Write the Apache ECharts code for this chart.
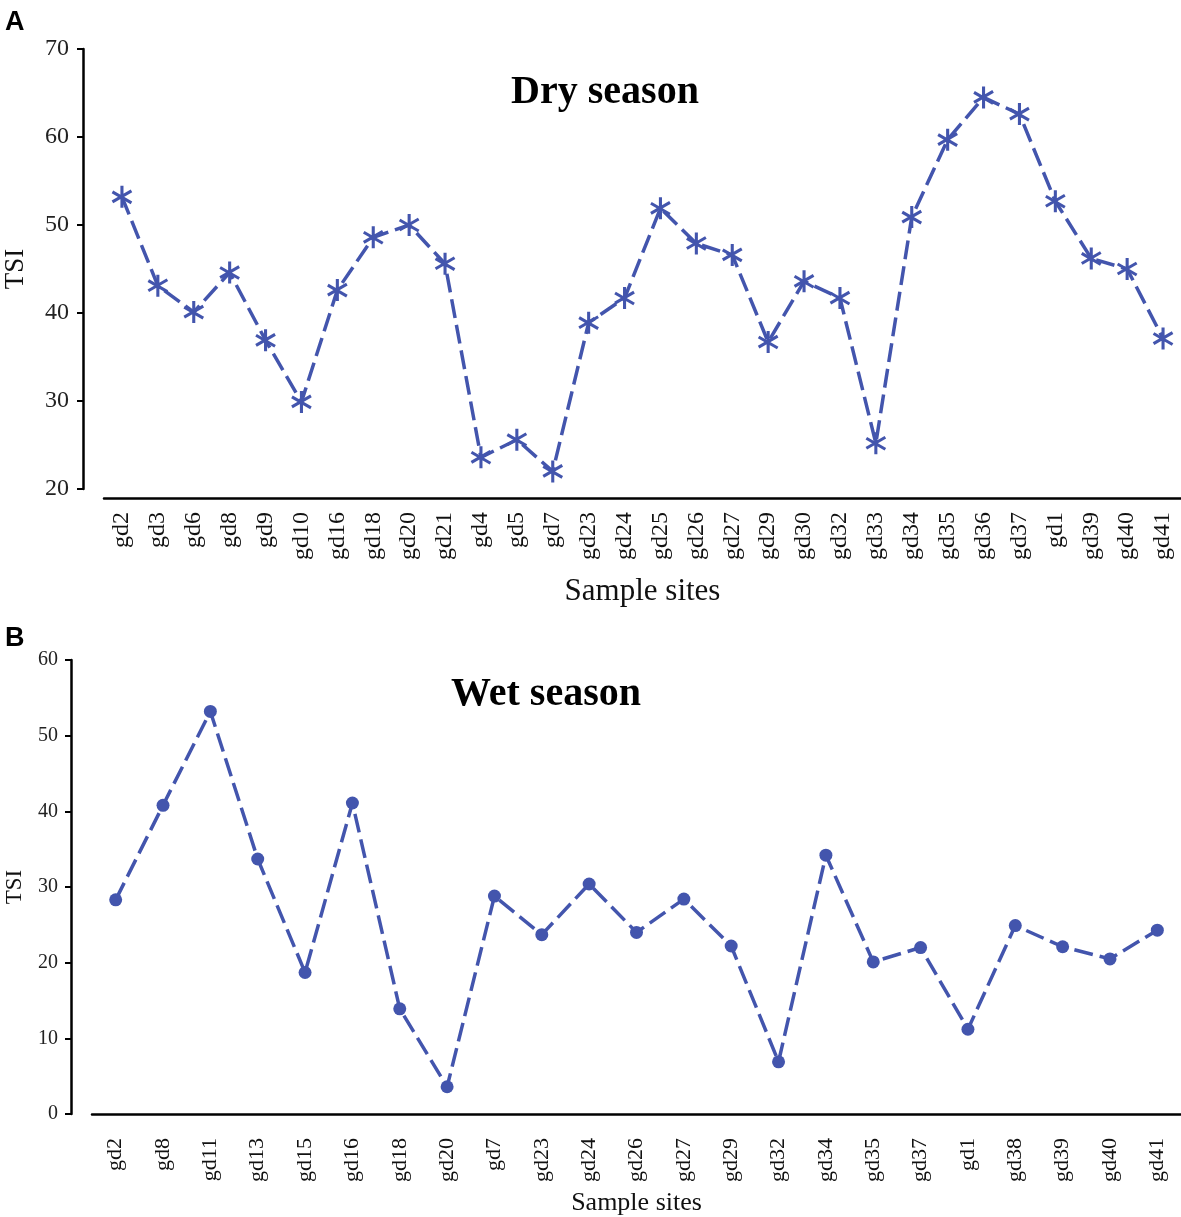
<!DOCTYPE html>
<html>
<head>
<meta charset="utf-8">
<script src="https://cdn.jsdelivr.net/npm/echarts@6/dist/echarts.min.js"></script>
<style>
html,body{margin:0;padding:0;background:#fff;}
#chart{width:1181px;height:1217px;}
</style>
</head>
<body>
<div id="chart"></div>
<script>
const dryCategories = ['gd2','gd3','gd6','gd8','gd9','gd10','gd16','gd18','gd20','gd21','gd4','gd5','gd7','gd23','gd24','gd25','gd26','gd27','gd29','gd30','gd32','gd33','gd34','gd35','gd36','gd37','gd1','gd39','gd40','gd41'];
const dryValues = [53.2,43.1,40.1,44.6,36.9,29.9,42.6,48.6,50.0,45.6,23.6,25.6,22.0,38.9,41.7,51.9,47.9,46.6,36.7,43.6,41.7,25.2,50.9,59.7,64.5,62.6,52.7,46.2,45.0,37.1];
const dryTicks = [20,30,40,50,60,70];

const wetCategories = ['gd2','gd8','gd11','gd13','gd15','gd16','gd18','gd20','gd7','gd23','gd24','gd26','gd27','gd29','gd32','gd34','gd35','gd37','gd1','gd38','gd39','gd40','gd41'];
const wetValues = [28.3,40.8,53.2,33.7,18.7,41.1,13.9,3.6,28.8,23.7,30.4,24.0,28.4,22.2,6.9,34.2,20.1,22.0,11.2,24.9,22.1,20.5,24.3];
const wetTicks = [0,10,20,30,40,50,60];

const COLOR = '#4355ad';
const SERIF = '"Liberation Serif","Times New Roman",serif';
const asterisk = 'path://M43,0L57,0L57,100L43,100Z M96.8,71.1L89.8,83.2L3.2,33.2L10.2,21.1Z M89.8,16.8L96.8,28.9L10.2,78.9L3.2,66.8Z';

const chart = echarts.init(document.getElementById('chart'), null, {renderer:'canvas'});

function xAxisCfg(gridIndex, cats, fontSize, nameSize, nameGap, offset, tickLen){
  return {
    type:'category', gridIndex, data:cats, boundaryGap:true, offset,
    name:'Sample sites', nameLocation:'middle', nameGap,
    nameTextStyle:{fontFamily:SERIF, fontSize:nameSize, color:'#111'},
    axisLine:{lineStyle:{color:'#000', width:2.5}},
    axisTick:{alignWithLabel:true, length:tickLen, lineStyle:{color:'#000', width:2.5}},
    axisLabel:{rotate:90, interval:0, margin:14, fontFamily:SERIF, fontSize, color:'#111'},
    splitLine:{show:false}
  };
}
function yAxisCfg(gridIndex, ticks, fontSize, nameSize, nameGap, margin){
  return {
    type:'value', gridIndex, min:ticks[0], max:ticks[ticks.length-1], interval:ticks[1]-ticks[0],
    offset:21,
    name:'TSI', nameLocation:'middle', nameGap,
    nameTextStyle:{fontFamily:SERIF, fontSize:nameSize, color:'#111'},
    axisLine:{show:true, lineStyle:{color:'#000', width:2.5}},
    axisTick:{show:true, length:6, lineStyle:{color:'#000', width:2}},
    axisLabel:{fontFamily:SERIF, fontSize, color:'#222', margin},
    splitLine:{show:false}
  };
}

chart.setOption({
  animation:false,
  backgroundColor:'#fff',
  title:[
    {text:'A', left:0, top:4, textStyle:{fontFamily:'"Liberation Sans",Arial,sans-serif', fontWeight:'bold', fontSize:27, color:'#000'}},
    {text:'Dry season', left:600, top:68, textAlign:'center', textStyle:{fontFamily:SERIF, fontWeight:'bold', fontSize:40, color:'#000'}},
    {text:'B', left:0, top:620, textStyle:{fontFamily:'"Liberation Sans",Arial,sans-serif', fontWeight:'bold', fontSize:27, color:'#000'}},
    {text:'Wet season', left:541, top:670, textAlign:'center', textStyle:{fontFamily:SERIF, fontWeight:'bold', fontSize:40, color:'#000'}}
  ],
  grid:[
    {left:104, right:0, top:49, height:440, outerBoundsMode:'none', containLabel:false},
    {left:92, right:0, top:660, height:454, outerBoundsMode:'none', containLabel:false}
  ],
  xAxis:[
    xAxisCfg(0, dryCategories, 24, 31, 78, 9, 8),
    xAxisCfg(1, wetCategories, 22, 26, 66, 10, 7)
  ],
  yAxis:[
    yAxisCfg(0, dryTicks, 24, 27, 54, 14),
    yAxisCfg(1, wetTicks, 20, 23, 45, 13)
  ],
  series:[
    {type:'line', xAxisIndex:0, yAxisIndex:0, data:dryValues,
     symbol:asterisk, symbolSize:22, symbolKeepAspect:true,
     itemStyle:{color:COLOR},
     lineStyle:{color:COLOR, width:3.5, type:[19,7]}},
    {type:'line', xAxisIndex:1, yAxisIndex:1, data:wetValues,
     symbol:'circle', symbolSize:13,
     itemStyle:{color:COLOR},
     lineStyle:{color:COLOR, width:3.5, type:[19,7]}}
  ]
});
</script>
</body>
</html>
